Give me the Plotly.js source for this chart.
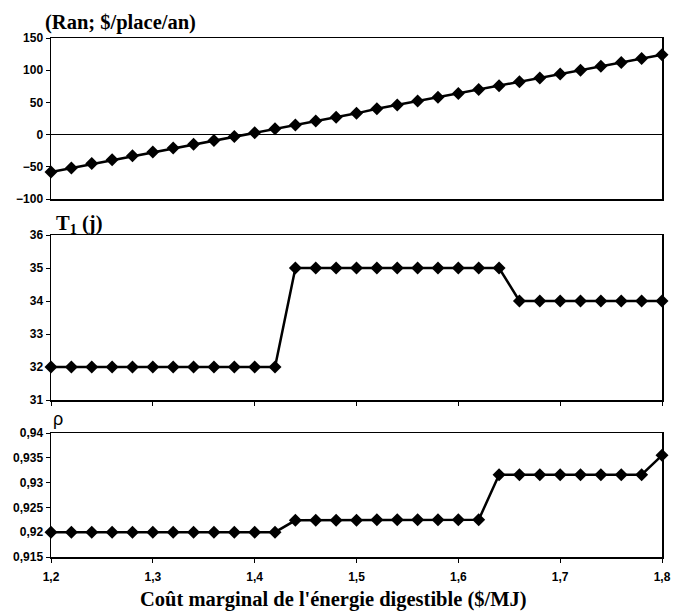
<!DOCTYPE html>
<html>
<head>
<meta charset="utf-8">
<script src="https://cdn.plot.ly/plotly-3.0.1.min.js"></script>
<style>html,body{margin:0;padding:0;background:#fff;}#chart{width:674px;height:612px;}</style>
</head>
<body>
<div id="chart"></div>
<script>
// Marginal cost of digestible energy ($/MJ)
var cost = [1.20,1.22,1.24,1.26,1.28,1.30,1.32,1.34,1.36,1.38,1.40,1.42,1.44,1.46,1.48,1.50,
            1.52,1.54,1.56,1.58,1.60,1.62,1.64,1.66,1.68,1.70,1.72,1.74,1.76,1.78,1.80];
// Ran ($/place/an)
var ran = [-58,-52,-45,-39,-33,-27,-21,-15,-9,-3,3,9,15,21,27,33,
           40,46,52,58,64,70,76,82,88,94,100,106,112,118,124];
// T1 (j)
var t1 = [32,32,32,32,32,32,32,32,32,32,32,32,35,35,35,35,
          35,35,35,35,35,35,35,34,34,34,34,34,34,34,34];
// rho
var rho = [0.92,0.92,0.92,0.92,0.92,0.92,0.92,0.92,0.92,0.92,0.92,0.92,
           0.9224,0.9224,0.9224,0.9224,0.9225,0.9225,0.9225,0.9225,0.9225,0.9225,
           0.9316,0.9316,0.9316,0.9316,0.9316,0.9316,0.9316,0.9316,0.9355];

var ran1Title = '(Ran; $/place/an)';
var t1Title = 'T<sub>1</sub> (j)';
var rhoTitle = 'ρ';
var xTitle = "Coût marginal de l'énergie digestible ($/MJ)";

var lineStyle = {color:'#000', width:2.5};
var markerStyle = {symbol:'diamond', size:10, color:'#000'};

function tr(y, xa, ya, name){
  return {x: cost, y: y, xaxis: xa, yaxis: ya, name: name, type:'scatter', mode:'lines+markers',
          line: lineStyle, marker: markerStyle, cliponaxis:false, showlegend:false, hoverinfo:'x+y'};
}

var traces = [tr(ran,'x','y','Ran'), tr(t1,'x2','y2','T1'), tr(rho,'x3','y3','rho')];

var tickFont = {family:'Liberation Sans, Arial, sans-serif', size:12, color:'#000', weight:'bold'};
var serifBold = {family:'Liberation Serif, Times New Roman, serif', size:20.5, color:'#000', weight:'bold'};

var H = 612, T = 38, B = 55;
var PH = H - T - B;
function frac(px){ return (H - B - px) / PH; }

var d1 = [frac(199), 1];
var d2 = [frac(400), frac(235)];
var d3 = [0, frac(433)];

function xax(extra){
  var a = {range:[1.2,1.8], dtick:0.1, tick0:1.2, showgrid:false, zeroline:false,
           showline:true, linecolor:'#000', linewidth:1.5, mirror:true,
           ticks:'outside', ticklen:4, tickcolor:'#000', tickwidth:1,
           showticklabels:false, tickfont:tickFont, fixedrange:true};
  for (var k in extra) a[k] = extra[k];
  return a;
}
function yax(extra){
  var a = {showgrid:false, zeroline:false, showline:true, linecolor:'#000', linewidth:1.5, mirror:true,
           ticks:'outside', ticklen:4, tickcolor:'#000', tickwidth:1, tickfont:tickFont, fixedrange:true};
  for (var k in extra) a[k] = extra[k];
  return a;
}

var layout = {
  width:674, height:612,
  margin:{l:51, r:12, t:T, b:B},
  paper_bgcolor:'#fff', plot_bgcolor:'#fff',
  separators:', ',
  showlegend:false,
  xaxis: xax({anchor:'y', ticks:''}),
  xaxis2: xax({anchor:'y2'}),
  xaxis3: xax({anchor:'y3', showticklabels:true, ticklabelstandoff:4}),
  yaxis: yax({domain:d1, range:[-100,150], dtick:50, anchor:'x',
              zeroline:true, zerolinecolor:'#000', zerolinewidth:1.2}),
  yaxis2: yax({domain:d2, range:[31,36], dtick:1, anchor:'x2'}),
  yaxis3: yax({domain:d3, range:[0.915,0.94], dtick:0.005, tick0:0.915, anchor:'x3'}),
  annotations: [
    {text:ran1Title, xref:'paper', yref:'paper', x:(43-51)/611, y:frac(23), xanchor:'left', yanchor:'middle',
     showarrow:false, font:serifBold},
    {text:t1Title, xref:'paper', yref:'paper', x:(54-51)/611, y:frac(225), xanchor:'left', yanchor:'middle',
     showarrow:false, font:serifBold},
    {text:rhoTitle, xref:'paper', yref:'paper', x:(51-51)/611, y:frac(419), xanchor:'left', yanchor:'middle',
     showarrow:false, font:{family:'Liberation Sans, Arial, sans-serif', size:18, color:'#000'}},
    {text:xTitle, xref:'paper', yref:'paper', x:(333.5-51)/611, y:frac(599), xanchor:'center', yanchor:'middle',
     showarrow:false, font:serifBold}
  ]
};

Plotly.newPlot('chart', traces, layout, {displayModeBar:false, staticPlot:true});
</script>
</body>
</html>
